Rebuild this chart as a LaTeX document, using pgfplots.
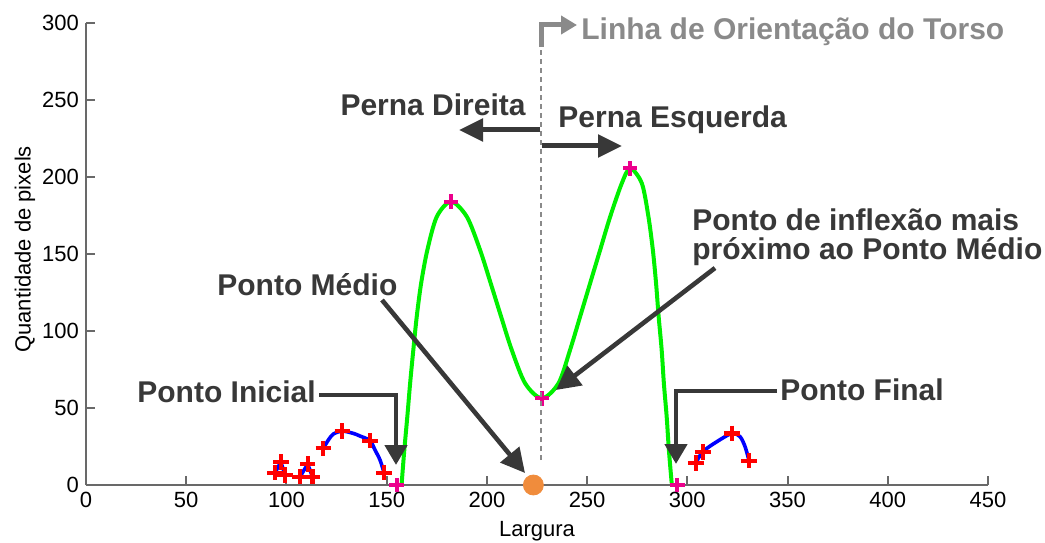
\documentclass[border=0pt]{standalone}
\usepackage{fontspec}
\setmainfont{Liberation Sans}
\usepackage{pgfplots}
\pgfplotsset{compat=1.18}
\usetikzlibrary{arrows.meta}
\definecolor{ann}{RGB}{56,56,56}
\definecolor{torso}{RGB}{138,138,138}
\definecolor{axisgray}{RGB}{105,105,105}
\definecolor{dotorange}{RGB}{240,140,60}
\definecolor{lgreen}{RGB}{0,240,0}
\begin{document}
\begin{tikzpicture}
\path[use as bounding box] (0,0) rectangle (522.5pt,271pt);
\begin{axis}[
  at={(43pt,28.5pt)}, anchor=south west, scale only axis,
  width=451pt, height=231pt,
  xmin=0, xmax=450, ymin=0, ymax=300,
  axis lines*=left,
  xtick={0,50,...,450}, ytick={0,50,...,300},
  tick align=inside, major tick length=4.5pt,
  axis line style={axisgray, line width=1pt},
  every tick/.style={axisgray, line width=1pt},
  tick label style={font=\fontsize{11}{13}\selectfont, black},
  /pgf/number format/assume math mode=true,
  scaled ticks=false,
  xlabel={Largura}, ylabel={Quantidade de pixels},
  label style={font=\fontsize{11}{13}\selectfont},
  xlabel style={at={(axis description cs:0.5,-0.0996)}, anchor=center},
  ylabel style={at={(axis description cs:-0.0676,0.51)}, anchor=center},
  clip=false,
]
% blue segments
\addplot[blue, line width=1.8pt] coordinates {(94.3,8) (97.2,15) (99.3,6.5)};
\addplot[blue, line width=1.8pt] coordinates {(106.8,5.4) (110.6,13.6) (113,5.4)};
\addplot[blue, line width=1.8pt, smooth] coordinates {
  (118.4,23.8) (120.9,29.2) (123.4,33.1) (127.9,35) (133.4,33.5) (136.7,31.8)
  (141.7,28.8) (144.2,22.7) (146.7,16.2) (148.7,8)};
\addplot[blue, line width=1.8pt, smooth] coordinates {
  (304.2,14.1) (307.7,21.6) (314.7,28.1) (322.2,33.5) (326.3,31.4) (328.8,24.9) (330.8,15.8)};
% green curve
\addplot[lgreen, line width=2pt, smooth] coordinates {
  (157.5,1.1) (158.8,22.7) (160.3,44.3) (161.7,66) (163.3,87.7) (165,109.3)
  (167.2,131) (170.3,152.6) (175,174.2) (182.1,184) (190,174.2) (196.6,152.6)
  (201.9,131) (207.1,109.3) (212.4,87.7) (219.1,66) (227.4,56.3) (235.7,66)
  (241.5,87.7) (246.5,109.3) (251.5,131) (256.5,152.6) (261.5,174.2) (267.3,195.9)
  (271.5,205.6) (277.3,195.9) (280.6,174.2) (282.8,152.6) (284.4,131) (285.7,109.3)
  (287.2,87.7) (288.3,66) (289.7,44.3) (290.8,22.7) (292.2,1.1)};
% red crosses
\addplot[only marks, mark=+, mark size=3.9pt, red, mark options={line width=2.1pt}] coordinates {
  (94.3,8) (97.2,15) (99.3,6.5) (106.8,5.4) (110.6,13.6) (113,5.4)
  (118.4,23.8) (127.9,35) (141.7,28.8) (148.7,8)
  (304.2,14.1) (307.7,21.6) (322.2,33.5) (330.8,15.8)};
% magenta crosses
\addplot[only marks, mark=+, mark size=3.6pt, magenta, mark options={line width=1.9pt}] coordinates {
  (155,0) (182.1,184) (227.4,56.3) (271.5,205.6) (295,0)};
% orange dot
\addplot[only marks, mark=*, mark size=5pt, dotorange, mark options={draw=dotorange, fill=dotorange}] coordinates {(223.2,0)};
\end{axis}
\begin{scope}[x=0.5pt, y=-0.5pt, yshift=271pt]
  \tikzset{bf/.style={font=\bfseries\fontsize{15}{18}\selectfont, inner sep=0pt}}
  % torso line
  \draw[torso, line width=1.3pt, dash pattern=on 2.5pt off 2pt] (541,460) -- (541,45);
  \draw[torso, line width=2.5pt, -{Triangle[length=8pt,width=9pt]}] (541,47) |- (577,25);
  \node[torso, bf, anchor=base west] at (581,40) {Linha de Orientação do Torso};
  % perna arrows
  \draw[ann, line width=2.5pt, -{Triangle[length=12pt,width=11pt]}] (540,130) -- (459,130);
  \draw[ann, line width=2.5pt, -{Triangle[length=12pt,width=11pt]}] (542,146) -- (622,146);
  \node[ann, bf, anchor=base east] at (526,116) {Perna Direita};
  \node[ann, bf, anchor=base west] at (558,128) {Perna Esquerda};
  % inflexao
  \node[ann, bf, anchor=base west] at (692,230) {Ponto de inflexão mais};
  \node[ann, bf, anchor=base west] at (692,259) {próximo ao Ponto Médio};
  \draw[ann, line width=2.3pt, -{Triangle[length=12pt,width=12pt]}] (715,268) -- (556,390);
  % ponto medio
  \node[ann, bf, anchor=base west] at (217,295) {Ponto Médio};
  \draw[ann, line width=2.3pt, -{Triangle[length=12pt,width=12pt]}] (382,300) -- (525,473);
  % ponto inicial
  \node[ann, bf, anchor=base west] at (137,402) {Ponto Inicial};
  \draw[ann, line width=2.3pt, -{Triangle[length=10pt,width=11pt]}] (319,395) -| (396,465);
  % ponto final
  \node[ann, bf, anchor=base west] at (780,400) {Ponto Final};
  \draw[ann, line width=2.3pt, -{Triangle[length=10pt,width=11pt]}] (777,391) -| (676,464);
\end{scope}
\end{tikzpicture}
\end{document}
